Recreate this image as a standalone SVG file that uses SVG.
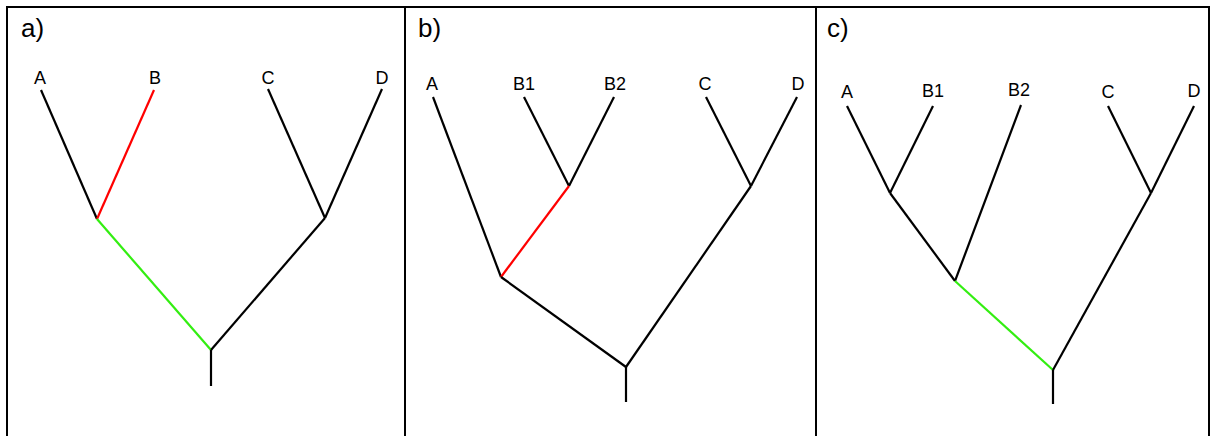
<svg xmlns="http://www.w3.org/2000/svg" width="1211" height="436" viewBox="0 0 1211 436">
<style>
.frame{stroke:#000;stroke-width:2;fill:none}
.br{stroke:#000;stroke-width:2.2;fill:none;stroke-linecap:butt}
.red{stroke:#ff0000}
.green{stroke:#33ee11}
.lbl{font-family:"Liberation Sans",Arial,sans-serif;font-size:18px;fill:#000;text-anchor:middle}
.pl{font-family:"Liberation Sans",Arial,sans-serif;font-size:26px;fill:#000}
</style>
<rect width="1211" height="436" fill="#fff"/>
<g id="frame">
<line class="frame" x1="6" y1="7" x2="1210" y2="7"/>
<line class="frame" x1="7" y1="7" x2="7" y2="436"/>
<line class="frame" x1="405" y1="7" x2="405" y2="436"/>
<line class="frame" x1="816" y1="7" x2="816" y2="436"/>
<line class="frame" x1="1209" y1="7" x2="1209" y2="436"/>
</g>
<g id="panel-a">
<text class="pl" x="21" y="37">a)</text>
<g id="a-labels">
<text class="lbl" x="40" y="84">A</text>
<text class="lbl" x="155" y="84">B</text>
<text class="lbl" x="268" y="84">C</text>
<text class="lbl" x="382" y="84">D</text>
</g>
<g id="a-connectors">
<line class="br" x1="41" y1="90" x2="97" y2="219"/>
<line class="br red" x1="154" y1="90" x2="97" y2="219"/>
<line class="br" x1="268" y1="89" x2="325" y2="218"/>
<line class="br" x1="382" y1="89" x2="325" y2="218"/>
<line class="br green" x1="97" y1="219" x2="211" y2="350"/>
<line class="br" x1="325" y1="218" x2="211" y2="350"/>
<line class="br" x1="211" y1="350" x2="211" y2="386"/>
</g>
</g>
<g id="panel-b">
<text class="pl" x="418" y="37">b)</text>
<g id="b-labels">
<text class="lbl" x="432" y="90">A</text>
<text class="lbl" x="524" y="90">B1</text>
<text class="lbl" x="615" y="90">B2</text>
<text class="lbl" x="705" y="90">C</text>
<text class="lbl" x="798" y="90">D</text>
</g>
<g id="b-connectors">
<line class="br" x1="433" y1="97" x2="501" y2="277"/>
<line class="br" x1="524" y1="97" x2="569" y2="186"/>
<line class="br" x1="614" y1="97" x2="569" y2="186"/>
<line class="br red" x1="569" y1="186" x2="501" y2="277"/>
<line class="br" x1="706" y1="97" x2="751" y2="186"/>
<line class="br" x1="797" y1="97" x2="751" y2="186"/>
<line class="br" x1="501" y1="277" x2="626" y2="367"/>
<line class="br" x1="751" y1="186" x2="626" y2="367"/>
<line class="br" x1="626" y1="367" x2="626" y2="402"/>
</g>
</g>
<g id="panel-c">
<text class="pl" x="827" y="37">c)</text>
<g id="c-labels">
<text class="lbl" x="847" y="98">A</text>
<text class="lbl" x="933" y="97">B1</text>
<text class="lbl" x="1019" y="96">B2</text>
<text class="lbl" x="1108" y="98">C</text>
<text class="lbl" x="1194" y="97">D</text>
</g>
<g id="c-connectors">
<line class="br" x1="847" y1="106" x2="890" y2="193"/>
<line class="br" x1="933" y1="106" x2="890" y2="193"/>
<line class="br" x1="890" y1="193" x2="955" y2="281"/>
<line class="br" x1="1021" y1="105" x2="955" y2="281"/>
<line class="br" x1="1108" y1="106" x2="1151" y2="193"/>
<line class="br" x1="1194" y1="106" x2="1151" y2="193"/>
<line class="br green" x1="955" y1="281" x2="1053" y2="370"/>
<line class="br" x1="1151" y1="193" x2="1053" y2="370"/>
<line class="br" x1="1053" y1="370" x2="1053" y2="404"/>
</g>
</g>
</svg>
